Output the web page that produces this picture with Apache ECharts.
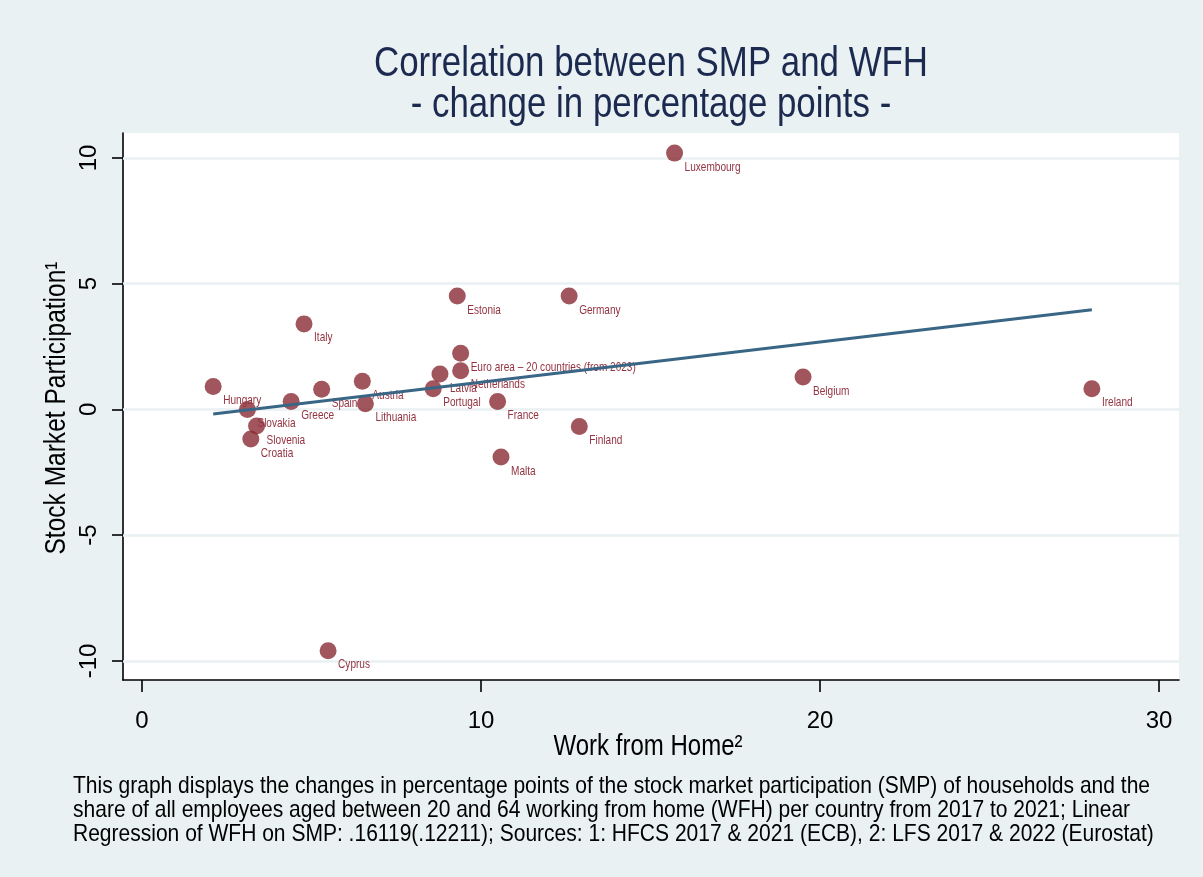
<!DOCTYPE html>
<html>
<head>
<meta charset="utf-8">
<script src="https://cdn.jsdelivr.net/npm/echarts@6/dist/echarts.min.js"></script>
<style>
  html, body { margin: 0; padding: 0; background: #e9f1f3; }
  #chart { width: 1203px; height: 877px; }
</style>
</head>
<body>
<div id="chart"></div>
<script>
// Change 2017-2021 in percentage points, per country
const countries = ['Hungary', 'Slovakia', 'Croatia', 'Slovenia', 'Greece', 'Italy', 'Spain', 'Cyprus',
  'Austria', 'Lithuania', 'Portugal', 'Latvia', 'Estonia', 'Euro area – 20 countries (from 2023)',
  'Netherlands', 'France', 'Malta', 'Germany', 'Finland', 'Luxembourg', 'Belgium', 'Ireland'];
// Work from home (x)
const wfh = [2.10, 3.11, 3.21, 3.38, 4.40, 4.78, 5.30, 5.49,
  6.50, 6.59, 8.59, 8.79, 9.30, 9.40,
  9.40, 10.49, 10.59, 12.60, 12.90, 15.71, 19.50, 28.02];
// Stock market participation (y)
const smp = [0.91, 0.00, -1.18, -0.66, 0.31, 3.40, 0.80, -9.60,
  1.12, 0.22, 0.82, 1.41, 4.51, 2.23,
  1.54, 0.31, -1.89, 4.51, -0.68, 10.19, 1.29, 0.82];
// Linear fit, drawn between the smallest and largest WFH values
const fitX = [2.10, 28.02];
const fitY = [-0.18, 3.96];

const xTicks = [0, 10, 20, 30];
const yTicks = [-10, -5, 0, 5, 10];

const titleLines = ['Correlation between SMP and WFH', '- change in percentage points -'];
const xName = 'Work from Home²';
const yName = 'Stock Market Participation¹';
const noteLines = [
  'This graph displays the changes in percentage points of the stock market participation (SMP) of households and the',
  'share of all employees aged between 20 and 64 working from home (WFH) per country from 2017 to 2021; Linear',
  'Regression of WFH on SMP: .16119(.12211); Sources: 1: HFCS 2017 & 2021 (ECB), 2: LFS 2017 & 2022 (Eurostat)'
];

const FONT = "'Liberation Sans', Arial, sans-serif";
const BG = '#e9f1f3';
const MAROON = '#8a2a33';
const LABEL_RED = '#933340';

// The text face is a narrow grotesque: squeeze Liberation Sans horizontally to that width
const measureCtx = document.createElement('canvas').getContext('2d');
function squeeze(text, size, targetWidth) {
  measureCtx.font = size + 'px ' + FONT;
  return Math.min(1, targetWidth / measureCtx.measureText(text).width);
}
const titleScale = squeeze(titleLines[0], 42, 554);
const noteScale = squeeze(noteLines[0], 24, 1077);
const xNameScale = squeeze(xName, 29, 189);
const yNameScale = squeeze(yName, 29, 293);
const pointLabelScale = squeeze('Luxembourg', 13, 56);

const points = countries.map((c, i) => [wfh[i], smp[i]]);
const fitLine = fitX.map((x, i) => [x, fitY[i]]);

const chart = echarts.init(document.getElementById('chart'), null, { renderer: 'canvas' });

chart.setOption({
  backgroundColor: BG,
  animation: false,
  textStyle: { fontFamily: FONT },
  grid: { left: 123, right: 24, top: 133, bottom: 197, backgroundColor: '#ffffff', show: true, borderWidth: 0 },
  xAxis: {
    type: 'value',
    min: -0.56, max: 30.59,
    axisLine: { show: true, onZero: false, lineStyle: { color: '#000', width: 1.6 } },
    axisTick: { show: true, length: 12, customValues: xTicks, lineStyle: { color: '#000', width: 1.6 } },
    axisLabel: { customValues: xTicks, fontFamily: FONT, fontSize: 24, color: '#000', margin: 29 },
    splitLine: { show: false }
  },
  yAxis: {
    type: 'value',
    min: -10.76, max: 10.99,
    axisLine: { show: true, onZero: false, lineStyle: { color: '#000', width: 1.6 } },
    axisTick: { show: true, length: 11, customValues: yTicks, lineStyle: { color: '#000', width: 1.6 } },
    axisLabel: { customValues: yTicks, rotate: 90, fontFamily: FONT, fontSize: 24, color: '#000', margin: 22 },
    splitLine: { show: false }
  },
  series: [
    {
      type: 'scatter',
      z: 2,
      data: points,
      symbol: 'circle',
      symbolSize: 17,
      itemStyle: { color: MAROON },
      markLine: {
        silent: true,
        symbol: 'none',
        label: { show: false },
        lineStyle: { color: BG, width: 2.5, type: 'solid' },
        z: 1,
        data: yTicks.map(v => ({ yAxis: v }))
      }
    },
    {
      // Country names, placed below-right of each marker
      type: 'custom',
      z: 3,
      data: points,
      silent: true,
      renderItem: (params, api) => {
        const pt = api.coord([api.value(0), api.value(1)]);
        return {
          type: 'text',
          x: pt[0] + 10,
          y: pt[1] + 14,
          scaleX: pointLabelScale,
          style: {
            text: countries[params.dataIndex],
            font: '13px ' + FONT,
            fill: LABEL_RED,
            align: 'left',
            verticalAlign: 'middle'
          }
        };
      }
    },
    {
      type: 'line',
      z: 4,
      data: fitLine,
      showSymbol: false,
      symbol: 'none',
      lineStyle: { color: '#3a6686', width: 3 }
    }
  ],
  graphic: [
    {
      type: 'text', x: 651, y: 44, z: 10, scaleX: titleScale,
      style: {
        text: titleLines.join('\n'),
        fill: '#1d2a50', font: '42px ' + FONT, align: 'center', verticalAlign: 'top', lineHeight: 41
      }
    },
    {
      type: 'text', x: 648, y: 747, z: 10, scaleX: xNameScale,
      style: { text: xName, fill: '#000', font: '29px ' + FONT, align: 'center', verticalAlign: 'middle' }
    },
    {
      type: 'text', x: 57, y: 408, z: 10, scaleX: yNameScale, rotation: Math.PI / 2,
      style: { text: yName, fill: '#000', font: '29px ' + FONT, align: 'center', verticalAlign: 'middle' }
    },
    {
      type: 'text', x: 73, y: 774, z: 10, scaleX: noteScale,
      style: {
        text: noteLines.join('\n'),
        fill: '#000', font: '24px ' + FONT, align: 'left', verticalAlign: 'top', lineHeight: 24
      }
    }
  ]
});
</script>
</body>
</html>
